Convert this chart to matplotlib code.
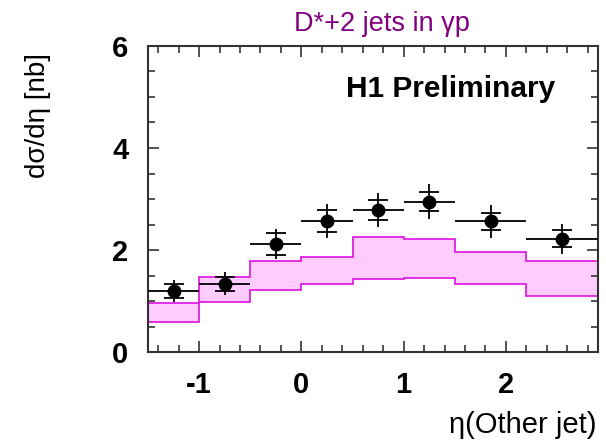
import matplotlib.pyplot as plt
import numpy as np
from matplotlib.ticker import MultipleLocator

plt.rcParams['font.family'] = ['Liberation Sans', 'DejaVu Sans']
plt.rcParams['axes.unicode_minus'] = False

# bin edges in eta(other jet)
edges = np.array([-1.5, -1.0, -0.5, 0.0, 0.5, 1.0, 1.5, 2.2, 2.9])
centers = 0.5 * (edges[:-1] + edges[1:])

# data points with stat and total errors
xsec = np.array([1.20, 1.34, 2.12, 2.57, 2.78, 2.95, 2.56, 2.22])
err_stat = np.array([0.14, 0.14, 0.21, 0.21, 0.20, 0.18, 0.17, 0.17])
err_tot = np.array([0.22, 0.23, 0.29, 0.33, 0.33, 0.35, 0.32, 0.29])

# theory band
band_up = np.array([0.97, 1.47, 1.78, 1.86, 2.25, 2.22, 1.97, 1.78])
band_lo = np.array([0.59, 0.99, 1.22, 1.33, 1.44, 1.46, 1.33, 1.10])

fig = plt.figure(figsize=(6.06, 4.41), dpi=100)
ax = fig.add_axes([0.2442, 0.2018, 0.7426, 0.6939])

ax.stairs(band_up, edges, baseline=band_lo, fill=True, color='#ffccff', zorder=1)
ax.stairs(band_up, edges, color='#e020e0', lw=1.3, zorder=2)
ax.stairs(band_lo, edges, color='#e020e0', lw=1.3, zorder=2)

xerr = [centers - edges[:-1], edges[1:] - centers]
ax.errorbar(centers, xsec, xerr=xerr, yerr=err_tot, fmt='o', color='black',
            ms=9, lw=1.3, capsize=0, zorder=3)
ax.plot(centers, xsec + err_stat, '_', color='black', ms=15, mew=1.3, zorder=3)
ax.plot(centers, xsec - err_stat, '_', color='black', ms=15, mew=1.3, zorder=3)

ax.set_xlim(-1.5, 2.9)
ax.set_ylim(0, 6)
ax.xaxis.set_major_locator(MultipleLocator(1))
ax.xaxis.set_minor_locator(MultipleLocator(0.2))
ax.yaxis.set_major_locator(MultipleLocator(2))
ax.yaxis.set_minor_locator(MultipleLocator(0.5))
ax.tick_params(which='both', direction='in', top=True, right=True,
               color='#333333', width=1.2)
ax.tick_params(which='major', length=8, labelsize=21, pad=14)
ax.tick_params(which='minor', length=5)
for lab in ax.get_xticklabels() + ax.get_yticklabels():
    lab.set_fontweight('bold')
for s in ax.spines.values():
    s.set_color('#333333')
    s.set_linewidth(1.5)

ax.text(0.905, 0.86, 'H1 Preliminary', transform=ax.transAxes, ha='right',
        va='center', fontsize=21.5, fontweight='bold')
fig.text(0.631, 0.946, 'D*+2 jets in γp', color='#800080', fontsize=19.5,
         ha='center', va='center')
fig.text(0.063, 0.739, 'dσ/dη [nb]', rotation=90, fontsize=20,
         ha='center', va='center')
fig.text(0.985, 0.036, 'η(Other jet)', fontsize=21, ha='right', va='center')

fig.savefig('out.png', dpi=100)
